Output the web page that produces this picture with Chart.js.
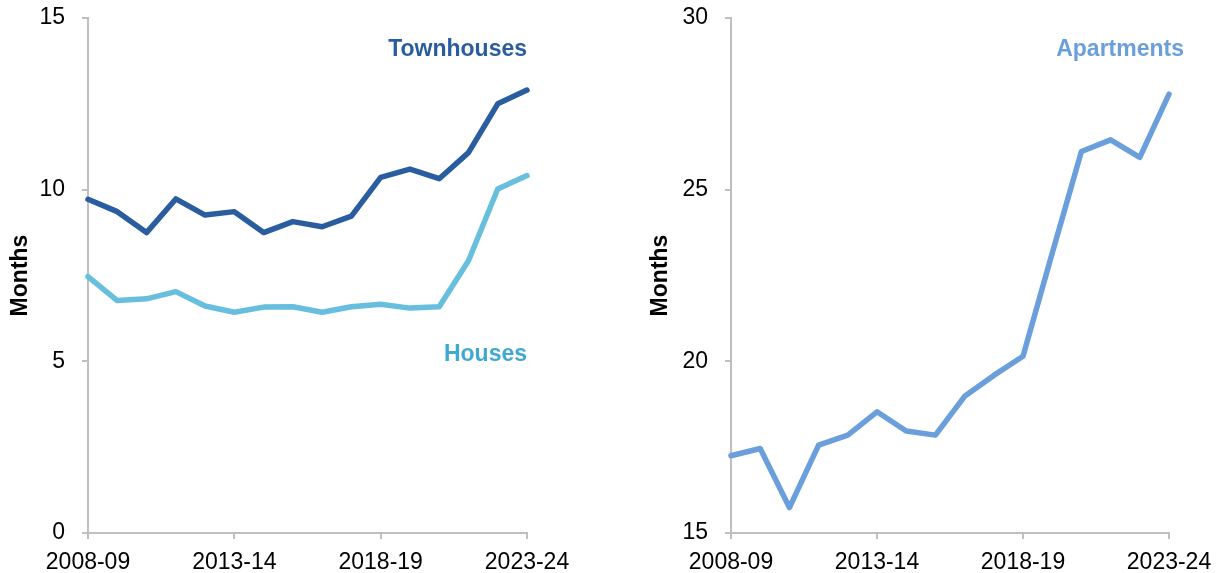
<!DOCTYPE html>
<html>
<head>
<meta charset="utf-8">
<script src="https://cdn.jsdelivr.net/npm/chart.js@4"></script>
<style>
  body { margin: 0; background: #fff; }
  #wrap { position: relative; width: 1220px; height: 573px; }
  .box { position: absolute; top: 0; height: 573px; }
</style>
</head>
<body>
<div id="wrap">
  <div class="box" style="left:0; width:600px;"><canvas id="leftChart"></canvas></div>
  <div class="box" style="left:640px; width:580px;"><canvas id="rightChart"></canvas></div>
</div>
<script>
// Years on the x axis
const years = ["2008-09", "2009-10", "2010-11", "2011-12", "2012-13", "2013-14", "2014-15", "2015-16",
               "2016-17", "2017-18", "2018-19", "2019-20", "2020-21", "2021-22", "2022-23", "2023-24"];
const shownYears = ["2008-09", "2013-14", "2018-19", "2023-24"];

// Months
const townhouses = [9.72, 9.36, 8.75, 9.73, 9.26, 9.36, 8.75, 9.07, 8.92, 9.23, 10.36, 10.60, 10.32, 11.08, 12.50, 12.90];
const houses     = [7.47, 6.77, 6.82, 7.03, 6.61, 6.43, 6.58, 6.59, 6.43, 6.59, 6.66, 6.55, 6.59, 7.93, 10.02, 10.41];
const apartments = [17.25, 17.46, 15.74, 17.56, 17.85, 18.53, 17.97, 17.85, 18.98, 19.59, 20.15, 23.15, 26.11, 26.45, 25.94, 27.78];

const leftTicks = [0, 5, 10, 15];
const rightTicks = [15, 20, 25, 30];

const GREY = "#bfbfbf";
const FONT = "'Liberation Sans', Arial, sans-serif";

// draws the series names next to the lines
const seriesLabels = {
    id: "seriesLabels",
    afterDatasetsDraw(chart, args, opts) {
        const ctx = chart.ctx;
        const xs = chart.scales.x, ys = chart.scales.y;
        ctx.save();
        ctx.font = "bold 23px " + FONT;
        ctx.textAlign = "right";
        ctx.textBaseline = "alphabetic";
        opts.items.forEach(it => {
            ctx.fillStyle = it.color;
            let x = xs.getPixelForValue(years.length - 1) + (it.dx || 0);
            let y = ys.getPixelForValue(it.at);
            ctx.fillText(it.text, x, y);
        });
        ctx.restore();
    }
};

function makeChart(id, datasets, yTicks, leftW, rightPad, labels) {
    let ctx = document.getElementById(id).getContext("2d");
    return new Chart(ctx, {
        type: "line",
        data: {
            labels: years,
            datasets: datasets.map(d => ({
                label: d.name,
                data: d.values,
                borderColor: d.color,
                borderWidth: 5.5,
                pointRadius: 0,
                borderJoinStyle: "round",
                borderCapStyle: "round",
                tension: 0,
                clip: false
            }))
        },
        options: {
            responsive: true,
            maintainAspectRatio: false,
            animation: false,
            layout: { padding: { top: 18, right: rightPad, left: 0, bottom: 0 } },
            plugins: {
                legend: { display: false },
                tooltip: { enabled: false },
                seriesLabels: { items: labels }
            },
            scales: {
                x: {
                    offset: false,
                    afterFit: s => { s.height = 40; s.paddingLeft = 0; s.paddingRight = 0; },
                    border: { color: GREY, width: 2 },
                    grid: {
                        drawOnChartArea: false,
                        tickLength: 6,
                        lineWidth: 2,
                        tickColor: c => shownYears.includes(years[c.index]) ? GREY : "rgba(0,0,0,0)"
                    },
                    ticks: {
                        autoSkip: false,
                        maxRotation: 0,
                        padding: 10,
                        color: "#000",
                        font: { family: FONT, size: 23 },
                        callback: (v, i) => shownYears.includes(years[i]) ? years[i] : ""
                    }
                },
                y: {
                    min: yTicks[0],
                    max: yTicks[yTicks.length - 1],
                    afterFit: s => { s.width = leftW; s.paddingTop = 0; s.paddingBottom = 0; },
                    afterBuildTicks: s => { s.ticks = yTicks.map(v => ({ value: v })); },
                    border: { color: GREY, width: 2 },
                    grid: { drawOnChartArea: false, tickLength: 6, lineWidth: 2, color: GREY },
                    title: {
                        display: true,
                        text: "Months",
                        color: "#000",
                        font: { family: FONT, size: 23, weight: "bold" },
                        padding: { top: 7, bottom: 0 }
                    },
                    ticks: {
                        padding: 17,
                        color: "#000",
                        font: { family: FONT, size: 23 }
                    }
                }
            }
        },
        plugins: [seriesLabels]
    });
}

makeChart("leftChart", [
    { name: "Townhouses", values: townhouses, color: "#2a5d9f" },
    { name: "Houses", values: houses, color: "#67bfdd" }
], leftTicks, 88, 73, [
    { text: "Townhouses", at: 13.88, color: "#2a5d9f" },
    { text: "Houses", at: 5.0, color: "#3fa9d2" }
]);

makeChart("rightChart", [
    { name: "Apartments", values: apartments, color: "#6a9fdb" }
], rightTicks, 91, 51, [
    { text: "Apartments", at: 28.88, color: "#6a9fdb", dx: 15 }
]);
</script>
</body>
</html>
